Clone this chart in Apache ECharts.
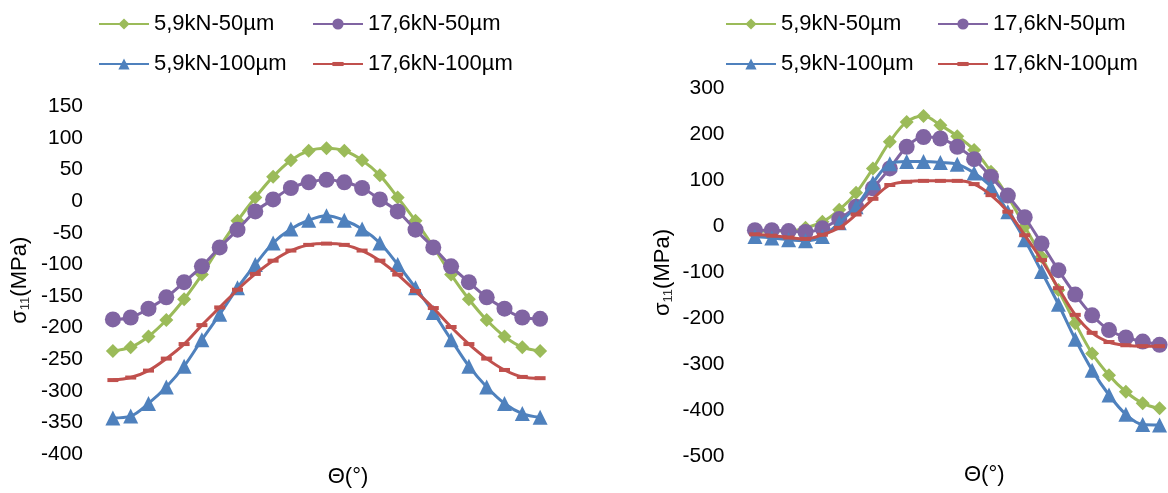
<!DOCTYPE html>
<html>
<head>
<meta charset="utf-8">
<script src="https://cdn.jsdelivr.net/npm/echarts@6/dist/echarts.min.js"></script>
<style>
html,body{margin:0;padding:0;background:#fff;}
#chart{width:1168px;height:493px;}
</style>
</head>
<body>
<div id="chart"></div>
<script>
const categories = ['0','15','30','45','60','75','90','105','120','135','150','165','180','195','210','225','240','255','270','285','300','315','330','345','360'];
const seriesNames = ['5,9kN-50µm','17,6kN-50µm','5,9kN-100µm','17,6kN-100µm'];

// left chart
const leftG = [-237,-231,-214,-188,-155,-116,-72,-31,6,39,65,80,84,80,65,41,6,-31,-72,-116,-155,-188,-214,-231,-237];
const leftP = [-187,-184,-170,-152,-128,-103,-73,-45,-16,3,21,30,34,30,21,3,-16,-45,-73,-103,-128,-152,-170,-184,-186];
const leftB = [-343,-340,-320,-294,-261,-219,-179,-137,-100,-66,-44,-30,-23,-30,-44,-66,-100,-137,-176,-219,-261,-294,-320,-336,-342];
const leftR = [-283,-279,-268,-249,-226,-196,-168,-140,-115,-94,-78,-69,-67,-69,-78,-94,-116,-142,-169,-199,-226,-249,-267,-278,-280];

// right chart
const rightG = [-11,-10,-10,-3,10,36,73,126,184,227,240,220,196,166,119,65,0,-66,-138,-210,-276,-323,-359,-384,-395];
const rightP = [-8,-8,-10,-12,-4,16,43,83,126,173,194,191,173,146,108,67,20,-37,-95,-148,-193,-225,-241,-250,-257];
const rightB = [-22,-25,-29,-31,-22,8,43,95,136,141,141,139,135,116,86,32,-29,-98,-169,-245,-312,-366,-408,-430,-431];
const rightR = [-17,-20,-24,-27,-18,-3,26,60,90,97,99,99,99,92,68,32,-19,-73,-134,-192,-231,-251,-258,-260,-260];

const leftTicks = {min:-400, max:150, interval:50};
const rightTicks = {min:-500, max:300, interval:100};

const colors = ['#9BBB59','#8064A2','#4F81BD','#C0504D'];
const dashSymbol = 'path://M0,-3.5L0,-3.5M0,0L11,0L11,4L0,4ZM11,7.5L11,7.5';
const symbols = ['diamond','circle','triangle',dashSymbol];
const symbolSizes = [14,16,15,11];
const FONT = 'Liberation Sans, Arial, sans-serif';

function mkSeries(idx, data, name, i) {
  return {
    type:'line', name:name, data:data,
    xAxisIndex:idx, yAxisIndex:idx,
    smooth:0.35,
    symbol:symbols[i], symbolSize:symbolSizes[i], showAllSymbol:true,
    lineStyle:{color:colors[i], width:3},
    itemStyle:{color:colors[i]},
    emphasis:{disabled:true},
    z:2+i
  };
}

function mkXAxis(idx, pad, gap){
  return {
    type:'category', gridIndex:idx, data:categories, boundaryGap:true,
    axisLine:{show:false, onZero:false}, axisTick:{show:false}, axisLabel:{show:false},
    splitLine:{show:false},
    name:'Θ(°)', nameLocation:'middle', nameGap:gap,
    nameTextStyle:{fontFamily:FONT, fontSize:22, color:'#000', lineHeight:22, padding:[0,0,0,pad]}
  };
}
function mkYAxis(idx, t, margin){
  return {
    type:'value', gridIndex:idx, min:t.min, max:t.max, interval:t.interval,
    axisLine:{show:false}, axisTick:{show:false}, splitLine:{show:false},
    axisLabel:{fontFamily:FONT, fontSize:21, color:'#000', margin:margin},
    name:'σ{sub|11}(MPa)', nameLocation:'middle', nameGap:72, nameRotate:90,
    nameTextStyle:{fontFamily:FONT, fontSize:22, color:'#000', lineHeight:24,
      rich:{sub:{fontFamily:FONT, fontSize:13, color:'#333', verticalAlign:'bottom', lineHeight:18}}}
  };
}
function mkLegend(left, names){
  return {
    orient:'vertical', left:left, top:8, itemGap:18,
    itemWidth:50, itemHeight:14, data:names,
    textStyle:{fontFamily:FONT, fontSize:22, color:'#000', lineHeight:22},
    selectedMode:false
  };
}

const series = [];
[leftG,leftP,leftB,leftR].forEach((d,i)=>series.push(mkSeries(0,d,seriesNames[i],i)));
[rightG,rightP,rightB,rightR].forEach((d,i)=>series.push(mkSeries(1,d,seriesNames[i],i)));

const chart = echarts.init(document.getElementById('chart'), null, {renderer:'canvas'});
chart.setOption({
  animation:false,
  backgroundColor:'#fff',
  grid:[
    {left:104, top:106.5, width:445, height:355.5},
    {left:746.5, top:88.3, width:422, height:368.4}
  ],
  legend:[
    mkLegend(93,[seriesNames[0],seriesNames[2]]),
    mkLegend(307,[seriesNames[1],seriesNames[3]]),
    mkLegend(720,[seriesNames[0],seriesNames[2]]),
    mkLegend(932,[seriesNames[1],seriesNames[3]])
  ],
  xAxis:[mkXAxis(0,43,12), mkXAxis(1,54,7)],
  yAxis:[mkYAxis(0,leftTicks,21), mkYAxis(1,rightTicks,22)],
  series:series
});
</script>
</body>
</html>
